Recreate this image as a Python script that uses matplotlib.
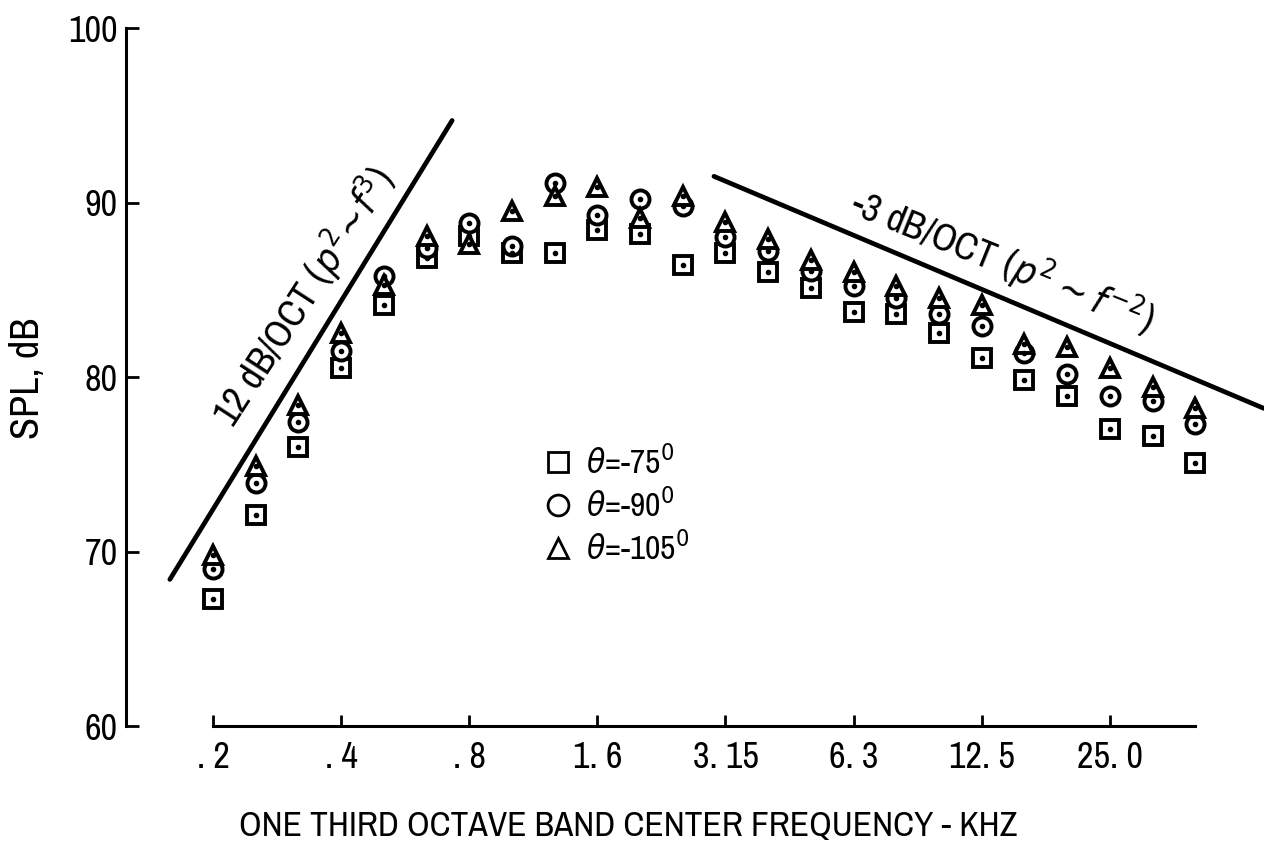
import matplotlib.pyplot as plt
from matplotlib import font_manager
from matplotlib.lines import Line2D

# the original lettering is a condensed sans; use a narrow face if one is installed
narrow = sorted({f.name for f in font_manager.fontManager.ttflist
                 if 'Narrow' in f.name or 'Condensed' in f.name})
plt.rcParams['font.family'] = narrow[:1] + ['DejaVu Sans']
plt.rcParams['font.stretch'] = 'condensed'

# one third octave bands, kHz
bands = [.2, .25, .315, .4, .5, .63, .8, 1.0, 1.25, 1.6, 2.0, 2.5, 3.15, 4.0,
         5.0, 6.3, 8.0, 10.0, 12.5, 16.0, 20.0, 25.0, 31.5, 40.0]
tick_labels = ['. 2', '. 4', '. 8', '1. 6', '3. 15', '6. 3', '12. 5', '25. 0']
tick_bands = [.2, .4, .8, 1.6, 3.15, 6.3, 12.5, 25.0]

# SPL, dB
spl_75 = [67.3, 72.1, 76.0, 80.5, 84.1, 86.8, 88.1, 87.1, 87.1, 88.4, 88.2, 86.4,
          87.1, 86.0, 85.1, 83.7, 83.6, 82.5, 81.1, 79.8, 78.9, 77.0, 76.6, 75.1]
spl_90 = [69.0, 73.9, 77.4, 81.5, 85.8, 87.4, 88.8, 87.5, 91.1, 89.3, 90.2, 89.8,
          88.0, 87.2, 86.1, 85.2, 84.5, 83.6, 82.9, 81.4, 80.2, 78.9, 78.6, 77.3]
spl_105 = [69.8, 74.9, 78.4, 82.5, 85.3, 88.1, 87.6, 89.5, 90.4, 90.9, 89.1, 90.4,
           88.9, 87.9, 86.7, 86.0, 85.2, 84.5, 84.1, 81.9, 81.7, 80.5, 79.4, 78.2]

# reference slopes (band index, dB) end points
slope_up_x = [-1.01, 5.60]
slope_up_y = [68.4, 94.7]
slope_down_x = [11.73, 24.61]
slope_down_y = [91.5, 78.2]

pos = list(range(len(bands)))
tick_pos = [bands.index(b) for b in tick_bands]

fig = plt.figure(figsize=(12.64, 8.47), dpi=100)
ax = fig.add_axes([126 / 1264, 1 - 726 / 847, 1 - 126 / 1264, 698 / 847])
ax.set_xlim(-2.037, 24.61)
ax.set_ylim(60, 100)

mk = dict(color='black', linestyle='none', markerfacecolor='white',
          markeredgewidth=2.8, markersize=13, clip_on=False)
ax.plot(pos, spl_75, marker='s', **mk)
ax.plot(pos, spl_90, marker='o', **mk)
ax.plot(pos, spl_105, marker='^', **mk)
# centre dots of the data points
for s in (spl_75, spl_90, spl_105):
    ax.plot(pos, s, linestyle='none', marker='o', markersize=3, color='black')

ax.plot(slope_up_x, slope_up_y, color='black', linewidth=3.4, solid_capstyle='round')
ax.plot(slope_down_x, slope_down_y, color='black', linewidth=3.4, solid_capstyle='round')

ax.text(2.12, 84.6, r'12 dB/OCT $(p^2\!\sim\! f^3)$', fontsize=28,
        rotation=57, ha='center', va='center', rotation_mode='anchor')
ax.text(18.5, 86.6, r'-3 dB/OCT $(p^2\sim f^{-2})$', fontsize=28,
        rotation=-22, ha='center', va='center', rotation_mode='anchor')

handles = [Line2D([], [], marker=m, color='black', linestyle='none',
                  markerfacecolor='white', markeredgewidth=2, markersize=15)
           for m in ('s', 'o', '^')]
labels = [r'$\theta$=-75$^{0}$', r'$\theta$=-90$^{0}$', r'$\theta$=-105$^{0}$']
ax.legend(handles, labels, loc='upper left', frameon=False, fontsize=24,
          bbox_to_anchor=(508 / 1264, 1 - 415 / 847), bbox_transform=fig.transFigure,
          handletextpad=0.25, labelspacing=0.25, handlelength=1.2)

for side in ('top', 'right'):
    ax.spines[side].set_visible(False)
ax.spines['left'].set_bounds(60, 100)
ax.spines['bottom'].set_bounds(0, 23)
ax.spines['left'].set_linewidth(2.2)
ax.spines['bottom'].set_linewidth(2.2)

ax.set_yticks([60, 70, 80, 90, 100])
ax.set_xticks(tick_pos)
ax.set_xticklabels(tick_labels)
ax.tick_params(axis='y', direction='in', length=9, width=2, labelsize=26, pad=6)
ax.tick_params(axis='x', direction='in', length=8, width=2, labelsize=26, pad=11)

fig.text(628 / 1264, 1 - 826 / 847, 'ONE THIRD OCTAVE BAND CENTER FREQUENCY - KHZ',
         fontsize=25.5, ha='center', va='center')
fig.text(28 / 1264, 1 - 378 / 847, 'SPL, dB', fontsize=29, rotation=90,
         ha='center', va='center')

fig.savefig('out.png', dpi=100)
